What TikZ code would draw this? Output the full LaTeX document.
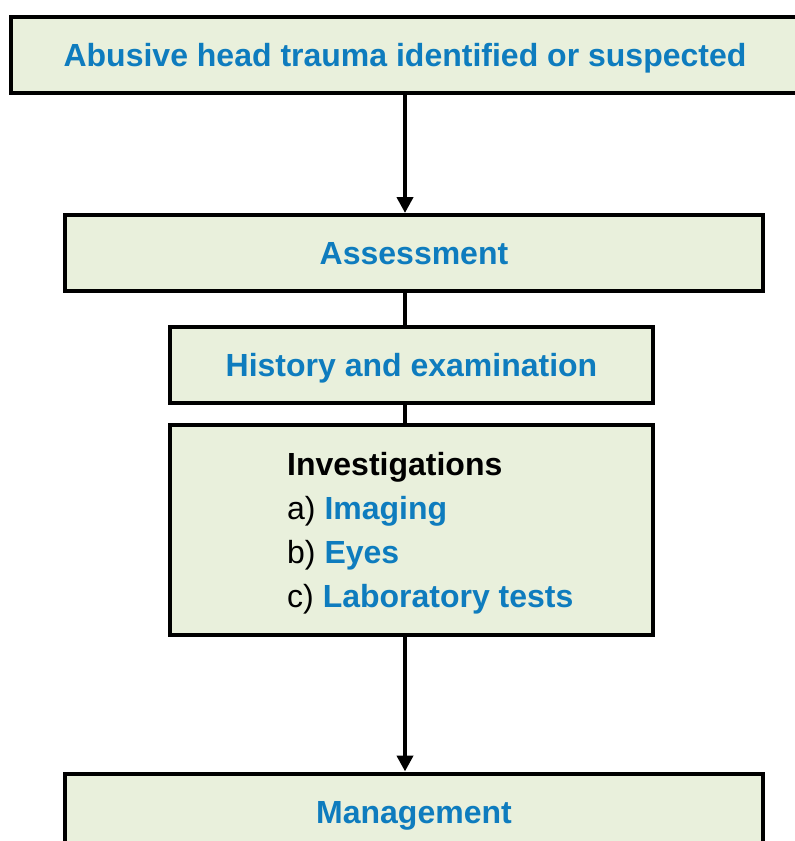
\documentclass[tikz,border=0pt]{standalone}
\usepackage{fontspec}
\setmainfont{Liberation Sans}
\usetikzlibrary{arrows.meta}
\definecolor{stepblue}{RGB}{14,124,190}
\definecolor{stepfill}{RGB}{233,240,220}

\begin{document}
\begin{tikzpicture}
    [x=1pt, y=-1pt,
    StepBox/.style={rectangle, draw=black, line width=4pt, fill=stepfill, inner sep=0pt,
        text height=23pt, text depth=0pt,
        font=\fontsize{32}{44}\selectfont\bfseries, text=stepblue},
    StepArrow/.style={-{Triangle[width=16pt, length=16pt]}, line width=4pt}]
    \useasboundingbox (0, 0) rectangle (795, 841);
    \node[StepBox, minimum width=788pt, minimum height=76pt] (aht) at (405, 54.5){Abusive head trauma identified or suspected};
    \node[StepBox, minimum width=698pt, minimum height=76pt] (assess) at (414, 253){Assessment};
    \node[StepBox, minimum width=483pt, minimum height=76pt] (hist) at (411.5, 365){History and examination};
    \node[StepBox, minimum width=483pt, minimum height=210pt] (invest) at (411.5, 530){};
    \node[StepBox, minimum width=698pt, minimum height=76pt] (manage) at (414, 811.5){Management};
    \node[anchor=north west, align=left, inner sep=0pt, font=\fontsize{32}{44}\selectfont] (invlist) at (287, 452.5)
        {\textbf{Investigations}\\
        a) \textcolor{stepblue}{\textbf{Imaging}}\\
        b) \textcolor{stepblue}{\textbf{Eyes}}\\
        c) \textcolor{stepblue}{\textbf{Laboratory tests}}};
    \draw[StepArrow] (aht.south) -- (aht.south |- assess.north);
    \draw[line width=4pt] (aht.south |- assess.south) -- (aht.south |- hist.north);
    \draw[line width=4pt] (aht.south |- hist.south) -- (aht.south |- invest.north);
    \draw[StepArrow] (aht.south |- invest.south) -- (aht.south |- manage.north);
\end{tikzpicture}
\end{document}
